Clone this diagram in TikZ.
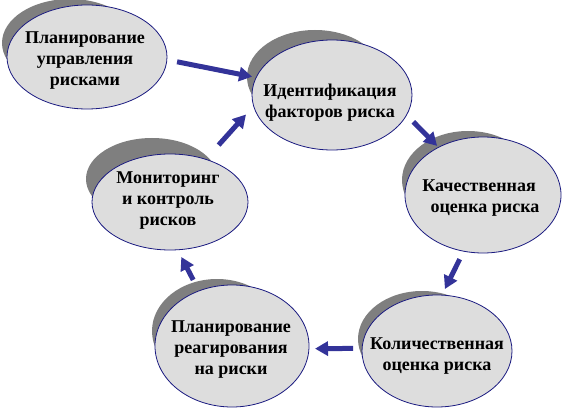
\documentclass[tikz,border=0pt]{standalone}
\usepackage{fontspec}
\setmainfont{Liberation Serif}
\usetikzlibrary{arrows.meta, shapes.geometric, calc, backgrounds}
\definecolor{ArrowBlue}{HTML}{333399}
\definecolor{RimBlue}{HTML}{1A1A80}
\definecolor{StageFill}{HTML}{DDDDDD}
\definecolor{StageShade}{HTML}{7F7F7F}

\begin{document}
\begin{tikzpicture}[
    x=1pt,
    y=-1pt,
    font=\bfseries\fontsize{18}{21}\selectfont,
    flow/.style={-{Triangle[length=13pt,width=14pt]}, line width=5pt, draw=ArrowBlue},
    stage/.style={ellipse, draw=RimBlue, fill=StageFill, line width=0.8pt, inner sep=0pt, outer sep=0pt},
    stageshadow/.style={fill=StageShade},
    stagetext/.style={align=center, text=black, inner sep=0pt}
  ]
    \useasboundingbox (0,0) rectangle (588,414);

    \node[stage, minimum width=160pt, minimum height=104pt] (plan) at (87,57) {};
    \node[stage, minimum width=160pt, minimum height=110pt] (ident) at (332,95) {};
    \node[stage, minimum width=156pt, minimum height=116pt] (qual) at (483,195) {};
    \node[stage, minimum width=150pt, minimum height=112pt] (quant) at (437,351) {};
    \node[stage, minimum width=154pt, minimum height=122pt] (resp) at (232,346) {};
    \node[stage, minimum width=156pt, minimum height=96pt] (monitor) at (170,202) {};

    \node[stagetext] (plan-t) at (85,60.5) {Планирование\\управления\\рисками};
    \node[stagetext] (ident-t) at (330,102.5) {Идентификация\\факторов риска};
    \node[stagetext] (qual-t) at (479,198) {Качественная\\\hspace*{12pt}оценка риска};
    \node[stagetext] (quant-t) at (437,356) {Количественная\\оценка риска};
    \node[stagetext] (resp-t) at (231,350) {Планирование\\реагирования\\на риски};
    \node[stagetext] (monitor-t) at (168,201) {Мониторинг\\и контроль\\рисков};

    \draw[flow, shorten <=10.4pt, shorten >=4.1pt] (plan.-2.1) -- (ident.167.25);
    \draw[flow, shorten <=9.6pt, shorten >=2pt] (ident.-15.2) -- (qual.133.1);
    \draw[flow, shorten <=8.9pt, shorten >=6.8pt] (qual.-109.7) -- (quant.85.9);
    \draw[flow, shorten <=9pt, shorten >=6.1pt] (quant.178.5) -- (resp.-2.2);
    \draw[flow, shorten <=12.4pt, shorten >=8.1pt] (resp.121.2) -- (monitor.-81.4);
    \draw[flow, shorten <=19.2pt, shorten >=11.4pt] (monitor.50.9) -- (ident.188.5);

    \begin{scope}[on background layer]
      \fill[stageshadow] ($(plan)+(-17,-14)$) ellipse [x radius=68, y radius=44];
      \fill[stageshadow] ($(ident)+(-17,-18)$) ellipse [x radius=68, y radius=47];
      \fill[stageshadow] ($(qual)+(-15,-15)$) ellipse [x radius=66, y radius=49];
      \fill[stageshadow] ($(quant)+(-15,-12)$) ellipse [x radius=64, y radius=48];
      \fill[stageshadow] ($(resp)+(-15,-15)$) ellipse [x radius=65, y radius=52];
      \fill[stageshadow] ($(monitor)+(-18,-23)$) ellipse [x radius=66, y radius=41];
    \end{scope}
  \end{tikzpicture}
\end{document}
